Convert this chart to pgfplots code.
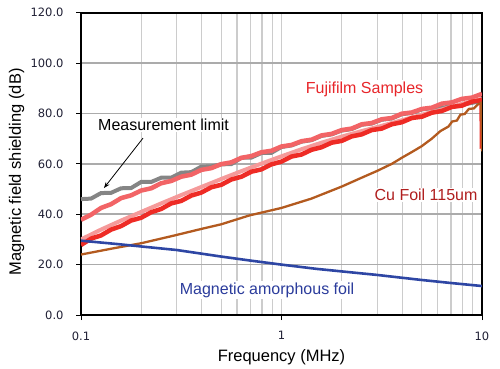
\documentclass[border=0pt]{standalone}
\usepackage{fontspec}
\setmainfont{Liberation Sans}
\newfontfamily\tickfont{DejaVu Sans}
\usepackage{pgfplots}
\pgfplotsset{compat=1.18}
\usetikzlibrary{arrows.meta}
\definecolor{cgray}{HTML}{858585}
\definecolor{cpink}{HTML}{F26466}
\definecolor{clpink}{HTML}{F59A9A}
\definecolor{cred}{HTML}{EE2B25}
\definecolor{cbrown}{HTML}{B35A1F}
\definecolor{cblue}{HTML}{2E46A4}
\definecolor{tred}{HTML}{E8262A}
\definecolor{tdred}{HTML}{B01E1E}
\definecolor{tblue}{HTML}{2B3C9C}
\definecolor{ticktxt}{HTML}{202035}
\begin{document}
\begin{tikzpicture}
\begin{axis}[name=ax, at={(0,0)}, anchor=south west,
  scale only axis, width=401bp, height=302.3bp,
  xmode=log, xmin=0.1, xmax=10, ymin=0, ymax=120,
  ytick={0,20,...,120}, yticklabels={0.0,20.0,40.0,60.0,80.0,100.0,120.0},
  xtick={0.1,1,10}, xticklabels={0.1,1,10},
  xminorgrids, xmajorgrids, ymajorgrids,
  major x grid style={draw=black!20, line width=1.2bp},
  minor x grid style={draw=black!20, line width=1.2bp},
  major y grid style={draw=black!33, line width=1.5bp},
  axis line style={black, line width=1.8bp},
  tick align=outside, xtick pos=bottom, ytick pos=left,
  major tick length=5bp, minor tick length=0pt,
  tick style={black, line width=0.8bp},
  ticklabel style={font=\tickfont\fontsize{11.5bp}{13bp}\selectfont, text=ticktxt},
  yticklabel style={xshift=-9bp},
  xticklabel style={yshift=-8bp},
]
% Measurement limit (gray)
\addplot[cgray, line width=4bp] coordinates {
(0.1,46.0)(0.1122,46.2)(0.1259,48.4)(0.1413,48.5)(0.1585,50.3)(0.1778,50.4)(0.1995,52.8)(0.2239,52.8)(0.2512,54.5)(0.2818,54.5)(0.3162,56.5)(0.3548,56.7)(0.3981,58.9)(0.4467,59.0)(0.5012,59.8)(0.5623,59.9)(0.6310,62.4)(0.7079,62.5)(0.7943,64.3)(0.8913,64.4)(1,66.7)(1.122,67.3)(1.259,68.8)(1.413,69.4)(1.585,71.1)(1.778,71.7)(1.995,73.2)(2.239,73.8)(2.512,75.5)(2.818,76.0)(3.162,77.5)(3.548,78.0)(3.981,79.7)(4.467,80.2)(5.012,81.6)(5.623,82.1)(6.310,82.4)(7.079,82.6)(7.943,83.5)(8.913,84.2)(10,85.0)};
% Fujifilm sample (pink, upper)
\addplot[cpink, line width=4.5bp] coordinates {
(0.1,37.8)(0.1122,39.8)(0.1259,42.5)(0.1413,44.0)(0.1585,46.4)(0.1778,47.5)(0.1995,49.4)(0.2239,50.3)(0.2512,52.3)(0.2818,53.2)(0.3162,54.9)(0.3548,55.7)(0.3981,57.6)(0.4467,58.3)(0.5012,59.9)(0.5623,60.6)(0.6310,62.4)(0.7079,63.1)(0.7943,64.6)(0.8913,65.2)(1,66.9)(1.122,67.5)(1.259,69.0)(1.413,69.6)(1.585,71.3)(1.778,71.9)(1.995,73.4)(2.239,74.0)(2.512,75.7)(2.818,76.2)(3.162,77.7)(3.548,78.2)(3.981,79.9)(4.467,80.4)(5.012,81.8)(5.623,82.3)(6.310,83.9)(7.079,84.4)(7.943,85.8)(8.913,86.3)(10,87.8)};
% Fujifilm sample (light pink)
\addplot[clpink, line width=4bp] coordinates {
(0.1,30)(0.1259,33.9)(0.1585,37.5)(0.1995,40.9)(0.2512,44.3)(0.3162,47.6)(0.3981,50.8)(0.5012,54)(0.6310,57.1)(0.7943,60.1)(1,63)(1.259,65.8)(1.585,68.4)(1.995,70.8)(2.512,73.0)(3.162,75.1)(3.981,77.3)(5.012,79.5)(6.310,81.6)(7.943,83.8)(10,85.8)};
% Fujifilm sample (red)
\addplot[cred, line width=4.5bp] coordinates {
(0.1,27.8)(0.1122,30.3)(0.1259,31.6)(0.1413,33.9)(0.1585,35.3)(0.1778,37.5)(0.1995,38.6)(0.2239,40.8)(0.2512,42.1)(0.2818,44.3)(0.3162,45.3)(0.3548,47.4)(0.3981,48.6)(0.4467,50.7)(0.5012,51.7)(0.5623,53.8)(0.6310,54.9)(0.7079,56.9)(0.7943,57.8)(0.8913,59.8)(1,60.9)(1.122,62.9)(1.259,63.7)(1.413,65.6)(1.585,66.6)(1.778,68.4)(1.995,69.1)(2.239,70.9)(2.512,71.7)(2.818,73.4)(3.162,74.0)(3.548,75.7)(3.981,76.5)(4.467,78.2)(5.012,78.7)(5.623,80.3)(6.310,81.0)(7.079,82.6)(7.943,83.1)(8.913,84.7)(9.95,85.3)(10,66)};
% Cu foil (brown)
\addplot[cbrown, line width=2.3bp] coordinates {
(0.1,24)(0.1413,26.3)(0.2,28.5)(0.29,31.5)(0.4,34.2)(0.5,36)(0.69,39.5)(1,42.5)(1.41,46.2)(2,51)(2.51,54.5)(3,57.2)(3.55,60)(4,62.5)(4.47,64.7)(5,67)(5.62,70)(6.2,73)(6.8,74.8)(7.1,76.8)(7.5,77.2)(7.8,79.5)(8.2,79.8)(8.6,81.8)(9.1,82)(9.5,83.5)(9.9,84.2)(10,65)};
% Magnetic amorphous foil (blue)
\addplot[cblue, line width=2.6bp] coordinates {
(0.1,29.5)(0.15,28.2)(0.2,27.2)(0.3,25.8)(0.5,23.2)(0.7,21.6)(1,20)(1.5,18.3)(2,17.3)(3,15.9)(5,13.9)(7,12.7)(10,11.5)};
% annotations
\node[fill=white, inner sep=1.5bp, text=black, font=\fontsize{16bp}{19bp}\selectfont] at (axis cs:0.258,75.4) {Measurement limit};
\node[fill=white, inner sep=1.5bp, text=tred, font=\fontsize{16bp}{19bp}\selectfont] at (axis cs:2.595,89.7) {Fujifilm Samples};
\node[fill=white, inner sep=1.5bp, text=tdred, font=\fontsize{16bp}{19bp}\selectfont] at (axis cs:5.26,47.6) {Cu Foil 115um};
\node[fill=white, inner sep=1.5bp, text=tblue, font=\fontsize{16bp}{19bp}\selectfont] at (axis cs:0.847,9.9) {Magnetic amorphous foil};
\draw[black, line width=0.8bp, -{Stealth[length=6bp,width=4.5bp]}] (axis cs:0.2038,70.2) -- (axis cs:0.1302,50.4);
\end{axis}
\node[font=\fontsize{16.5bp}{19bp}\selectfont] at (200.5bp,-42bp) {Frequency (MHz)};
\node[font=\fontsize{16.5bp}{19bp}\selectfont, rotate=90] at (-64.5bp,143bp) {Magnetic field shielding (dB)};
\pgfresetboundingbox
\useasboundingbox (-81bp,-54bp) rectangle (419bp,315bp);
\end{tikzpicture}
\end{document}
